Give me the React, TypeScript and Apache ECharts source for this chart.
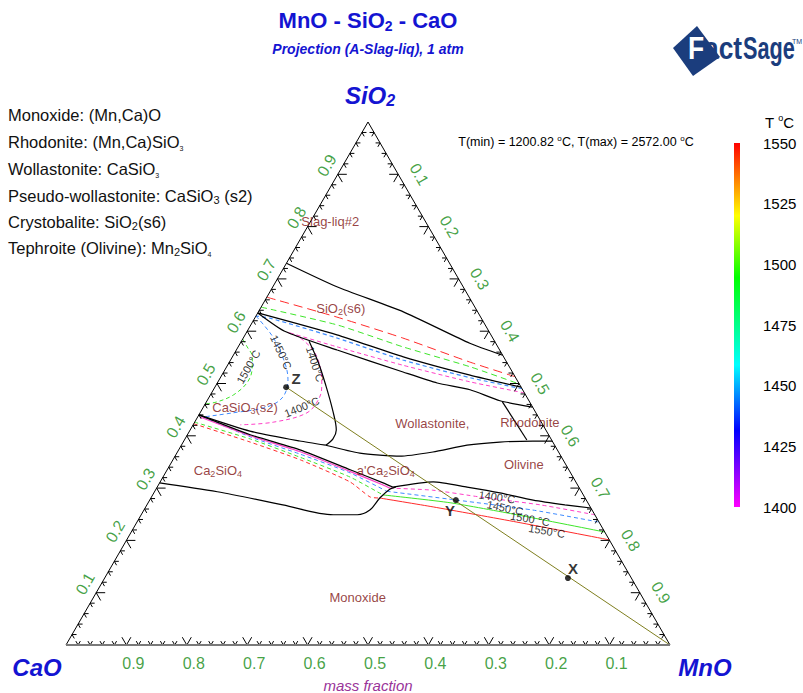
import React, { useEffect, useRef } from "react";
import * as echarts from "echarts";

const FONT = "'Liberation Sans', Arial, Helvetica, sans-serif";
const TITLE_BLUE = "#1414d2";
const TICK_GREEN = "#138a13";
const PHASE_RED = "#7e1010";
const C1400 = "#ff3fc8";
const C1450 = "#3f8cff";
const C1500 = "#3ee62a";
const C1550 = "#ff2a2a";

// ---------- data: compositions as [MnO, SiO2] mass fractions (CaO = 1 - MnO - SiO2) ----------
const bndSlagTop = [[0, 0.730], [0.106, 0.685], [0.240, 0.637], [0.380, 0.577], [0.446, 0.554]];
const bndCristUpper = [[0, 0.635], [0.152, 0.593], [0.283, 0.551], [0.411, 0.516], [0.507, 0.493]];
const bndCristLower = [[0, 0.635], [0.062, 0.600], [0.167, 0.564], [0.297, 0.522], [0.364, 0.501], [0.425, 0.488], [0.485, 0.467], [0.545, 0.455]];
const bndRhodonite = [[0.490, 0.465], [0.567, 0.392]];
const bndWollastonite = [[0.112, 0.581], [0.147, 0.541], [0.183, 0.495], [0.217, 0.449], [0.242, 0.411], [0.245, 0.394], [0.239, 0.382]];
const bndPseudoLower = [[0, 0.440], [0.100, 0.409], [0.192, 0.390], [0.239, 0.382]];
const bndOlivineTop = [[0.239, 0.382], [0.303, 0.367], [0.372, 0.361], [0.423, 0.369], [0.473, 0.382], [0.524, 0.388], [0.578, 0.390], [0.610, 0.390]];
const bndC2SUpper = [[0, 0.440], [0.104, 0.402], [0.201, 0.373], [0.303, 0.335], [0.370, 0.310], [0.390, 0.302]];
const bndC2SLower = [[0, 0.310], [0.104, 0.293], [0.225, 0.268], [0.318, 0.249], [0.358, 0.249], [0.374, 0.258], [0.379, 0.281], [0.387, 0.298], [0.395, 0.302]];
const bndOlivineBottom = [[0.390, 0.302], [0.452, 0.312], [0.513, 0.302], [0.573, 0.291], [0.635, 0.277], [0.692, 0.268], [0.738, 0.262]];

const iso1550Upper = [[0, 0.665], [0.135, 0.627], [0.264, 0.587], [0.398, 0.541], [0.487, 0.513]];
const iso1550LowerL = [[0, 0.423], [0.111, 0.388], [0.211, 0.354], [0.314, 0.312], [0.362, 0.283], [0.379, 0.281]];
const iso1550LowerR = [[0.379, 0.281], [0.476, 0.264], [0.629, 0.235], [0.799, 0.201]];

const iso1500Upper = [[0, 0.646], [0.143, 0.612], [0.273, 0.570], [0.403, 0.532], [0.501, 0.499]];
const iso1500Loop = [[0, 0.585], [0.015, 0.570], [0.033, 0.551], [0.045, 0.526], [0.049, 0.501], [0.038, 0.478], [0.018, 0.465], [0, 0.461]];
const iso1500LowerL = [[0, 0.426], [0.108, 0.394], [0.208, 0.359], [0.310, 0.321], [0.381, 0.287]];
const iso1500LowerR = [[0.381, 0.287], [0.500, 0.272], [0.622, 0.249], [0.784, 0.216]];

const iso1450Upper = [[0.510, 0.490], [0.414, 0.511], [0.285, 0.545], [0.155, 0.587], [0.025, 0.625], [0, 0.629]];
const iso1450Loop = [[0, 0.629], [0.048, 0.589], [0.093, 0.539], [0.114, 0.507], [0.122, 0.474], [0.105, 0.455], [0.055, 0.444], [0.009, 0.436]];
const iso1450LowerL = [[0.009, 0.436], [0.106, 0.398], [0.205, 0.365], [0.306, 0.329], [0.384, 0.294]];
const iso1450LowerR = [[0.384, 0.294], [0.509, 0.277], [0.644, 0.258], [0.765, 0.235]];

const iso1400Upper = [[0.518, 0.482], [0.418, 0.503], [0.290, 0.535], [0.164, 0.570], [0.068, 0.598]];
const iso1400Loop = [[0.068, 0.598], [0.101, 0.583], [0.140, 0.551], [0.173, 0.501], [0.183, 0.474], [0.177, 0.444], [0.130, 0.426], [0.078, 0.421]];
const iso1400LowerL = [[0.004, 0.436], [0.105, 0.400], [0.202, 0.370], [0.304, 0.332], [0.372, 0.306], [0.386, 0.300]];
const iso1400LowerR = [[0.386, 0.300], [0.459, 0.296], [0.544, 0.283], [0.651, 0.268], [0.751, 0.249]];

const pointNames = ["Z", "Y", "X"];
const pointComps = [[0.118, 0.493], [0.507, 0.277], [0.767, 0.128]];
const mnoCorner = [1, 0];

const regionNames = ["Slag-liq#2", "SiO_2(s6)", "Wollastonite,", "Rhodonite", "Olivine", "CaSiO_3(s2)", "Ca_2SiO_4", "a'Ca_2SiO_4", "Monoxide"];
const regionAt = [[0.033, 0.809], [0.133, 0.644], [0.395, 0.423], [0.555, 0.426], [0.585, 0.346], [0.069, 0.455], [0.085, 0.333], [0.363, 0.333], [0.438, 0.090]];

const isoLabelTexts = ["1500°C", "1450°C", "1400°C", "1400°C", "1400°C", "1450°C", "1500 °C", "1550°C"];
const isoLabelAt = [[0.036, 0.532], [0.076, 0.560], [0.144, 0.537], [0.163, 0.455], [0.572, 0.283], [0.596, 0.262], [0.648, 0.241], [0.687, 0.218]];
const isoLabelAngle = [60, -65, -72, 22, -8, -12, -10, -10];

const tickLabels = ["0.1", "0.2", "0.3", "0.4", "0.5", "0.6", "0.7", "0.8", "0.9"];
const tickValues = [0.1, 0.2, 0.3, 0.4, 0.5, 0.6, 0.7, 0.8, 0.9];

const legendLines = [
  "Monoxide: (Mn,Ca)O",
  "Rhodonite: (Mn,Ca)SiO~3",
  "Wollastonite: CaSiO~3",
  "Pseudo-wollastonite: CaSiO_3 (s2)",
  "Crystobalite: SiO_2(s6)",
  "Tephroite (Olivine): Mn_2SiO~4",
];

const tempMin = 1400;
const tempMax = 1550;
const tempStep = 25;

// ---------- helpers ----------
const GRID_W = 604;
const GRID_H = 523;
const toXY = (p: number[]) => [p[0] + p[1] / 2, p[1]];
// shift a data point by a pixel offset (dx right, dy down)
const shiftPx = (xy: number[], dx: number, dy: number) => [xy[0] + dx / GRID_W, xy[1] - dy / GRID_H];

const richify = (str: string) =>
  str
    .split(/([_~]\d)/)
    .filter((p) => p.length > 0)
    .map((p) => (p[0] === "_" ? `{s|${p.slice(1)}}` : p[0] === "~" ? `{t|${p.slice(1)}}` : `{n|${p}}`))
    .join("");

function lineSeries(pts: number[][], color: string, width: number, type: any = "solid", z = 3, smooth = 0.2) {
  return {
    type: "line",
    xAxisIndex: 0,
    yAxisIndex: 0,
    data: pts.map(toXY),
    symbol: "none",
    showSymbol: false,
    smooth,
    silent: true,
    clip: false,
    z,
    lineStyle: { color, width, type },
  };
}

function buildOption() {
  const tickData: number[][] = [];
  for (let k = 1; k < 50; k++) {
    const v = k / 50;
    const major = k % 5 === 0 ? 1 : 0;
    tickData.push([v, 0, 0, major]);
    tickData.push([0, v, 1, major]);
    tickData.push([1 - v, v, 2, major]);
  }

  const labelSeries = (data: any[], rotate: number) => ({
    type: "scatter",
    xAxisIndex: 0,
    yAxisIndex: 0,
    silent: true,
    clip: false,
    symbolSize: 1,
    itemStyle: { color: "rgba(0,0,0,0)" },
    z: 6,
    data,
    label: {
      show: true,
      position: "inside",
      formatter: "{b}",
      rotate,
      color: TICK_GREEN,
      fontSize: 16,
      fontFamily: FONT,
    },
  });

  const series: any[] = [
    // triangle
    lineSeries([[0, 0], [0, 1], [1, 0]], "#000", 1, "solid", 4, 0),
    lineSeries([[0, 0], [1, 0]], "#7a7a7a", 2, "solid", 4, 0),
    // ticks
    {
      type: "custom",
      coordinateSystem: "cartesian2d",
      xAxisIndex: 0,
      yAxisIndex: 0,
      silent: true,
      clip: false,
      z: 4,
      data: tickData,
      renderItem: (params: any, api: any) => {
        const m = api.value(0);
        const s = api.value(1);
        const edge = api.value(2);
        const major = api.value(3);
        const p = api.coord([m + s / 2, s]);
        const L = major ? 9 : 4.5;
        const angs = edge === 0 ? [60, 120] : edge === 1 ? [0, -60] : [180, 240];
        return {
          type: "group",
          children: angs.map((a) => {
            const r = (a * Math.PI) / 180;
            return {
              type: "line",
              shape: { x1: p[0], y1: p[1], x2: p[0] + L * Math.cos(r), y2: p[1] - L * Math.sin(r) },
              style: { stroke: "#000", lineWidth: 1 },
            };
          }),
        };
      },
    },
    // tick labels: CaO along bottom, SiO2 along left, MnO along right
    labelSeries(tickValues.map((c, i) => ({ value: shiftPx(toXY([1 - c, 0]), 7, 18), name: tickLabels[i] })), 0),
    labelSeries(tickValues.map((v, i) => ({ value: shiftPx(toXY([0, v]), -11, -9), name: tickLabels[i] })), 60),
    labelSeries(tickValues.map((v, i) => ({ value: shiftPx(toXY([v, 1 - v]), 21, 0), name: tickLabels[i] })), -60),

    // isotherms (drawn below phase boundaries)
    lineSeries(iso1550Upper, C1550, 1, [9, 5], 2),
    lineSeries(iso1550LowerL, C1550, 1, [4, 3], 2),
    lineSeries(iso1550LowerR, C1550, 1, "solid", 2),
    lineSeries(iso1500Upper, C1500, 1, [6, 4], 2),
    lineSeries(iso1500Loop, C1500, 1, [4, 3], 2, 0.35),
    lineSeries(iso1500LowerL, C1500, 1, [4, 3], 2),
    lineSeries(iso1500LowerR, C1500, 1, "solid", 2),
    lineSeries(iso1450Upper, C1450, 1.2, [4, 3], 2),
    lineSeries(iso1450Loop, C1450, 1, [4, 3], 2, 0.35),
    lineSeries(iso1450LowerL, C1450, 1, [4, 3], 2),
    lineSeries(iso1450LowerR, C1450, 1, [4, 3], 2),
    lineSeries(iso1400Upper, C1400, 1, [4, 3], 2),
    lineSeries(iso1400Loop, C1400, 1, [4, 3], 2, 0.35),
    lineSeries(iso1400LowerL, C1400, 1.2, "solid", 2),
    lineSeries(iso1400LowerR, C1400, 1, [4, 3], 2),

    // phase boundaries
    lineSeries(bndSlagTop, "#000", 1.2),
    lineSeries(bndCristUpper, "#000", 1.2),
    lineSeries(bndCristLower, "#000", 1.2),
    lineSeries(bndRhodonite, "#000", 1.2, "solid", 3, 0),
    lineSeries(bndWollastonite, "#000", 1.2, "solid", 3, 0.35),
    lineSeries(bndPseudoLower, "#000", 1.2),
    lineSeries(bndOlivineTop, "#000", 1.2),
    lineSeries(bndC2SUpper, "#000", 1.2),
    lineSeries(bndC2SLower, "#000", 1.2, "solid", 3, 0.3),
    lineSeries(bndOlivineBottom, "#000", 1.2),

    // composition line Z -> MnO
    lineSeries([pointComps[0], mnoCorner], "#7f7f1f", 1, "solid", 3, 0),

    // points
    {
      type: "scatter",
      xAxisIndex: 0,
      yAxisIndex: 0,
      silent: true,
      clip: false,
      z: 7,
      symbolSize: 6,
      itemStyle: { color: "#000" },
      data: pointNames.map((n, i) => ({
        value: toXY(pointComps[i]),
        name: n,
        label: { offset: i === 0 ? [10, -9] : i === 1 ? [-6, 10] : [5, -10] },
      })),
      label: { show: true, position: "inside", formatter: "{b}", fontSize: 15, fontWeight: "bold", color: "#000", fontFamily: FONT },
    },

    // region labels
    {
      type: "scatter",
      xAxisIndex: 0,
      yAxisIndex: 0,
      silent: true,
      clip: false,
      z: 6,
      symbolSize: 1,
      itemStyle: { color: "rgba(0,0,0,0)" },
      data: regionNames.map((n, i) => ({ value: toXY(regionAt[i]), name: richify(n) })),
      label: {
        show: true,
        position: "inside",
        formatter: "{b}",
        rich: {
          n: { fontSize: 13, color: PHASE_RED, fontFamily: FONT, lineHeight: 16 },
          s: { fontSize: 9, color: PHASE_RED, fontFamily: FONT, lineHeight: 8, verticalAlign: "bottom" },
          t: { fontSize: 9, color: PHASE_RED, fontFamily: FONT, lineHeight: 8, verticalAlign: "bottom" },
        },
      },
    },

    // isotherm labels
    {
      type: "scatter",
      xAxisIndex: 0,
      yAxisIndex: 0,
      silent: true,
      clip: false,
      z: 6,
      symbolSize: 1,
      itemStyle: { color: "rgba(0,0,0,0)" },
      data: isoLabelTexts.map((t, i) => ({ value: toXY(isoLabelAt[i]), name: t, label: { rotate: isoLabelAngle[i] } })),
      label: { show: true, position: "inside", formatter: "{b}", fontSize: 11, color: "#000", fontFamily: FONT },
    },

    // colour bar
    {
      type: "bar",
      xAxisIndex: 1,
      yAxisIndex: 1,
      silent: true,
      barWidth: "100%",
      data: [tempMax],
      itemStyle: {
        color: new echarts.graphic.LinearGradient(0, 0, 0, 1, [
          { offset: 0, color: "#ff0000" },
          { offset: 0.1, color: "#ff8000" },
          { offset: 0.2, color: "#ffff00" },
          { offset: 0.37, color: "#00ff00" },
          { offset: 0.61, color: "#00ffff" },
          { offset: 0.79, color: "#0000ff" },
          { offset: 1, color: "#ff00ff" },
        ]),
      },
    },
  ];

  const gRich = (size: number, color: string, extra: any = {}) => ({
    n: { fontSize: size, fill: color, fontFamily: FONT, lineHeight: size + 3, ...extra },
    s: { fontSize: Math.round(size * 0.65), fill: color, fontFamily: FONT, lineHeight: Math.round(size * 0.6), verticalAlign: "bottom", ...extra },
    t: { fontSize: Math.round(size * 0.4), fill: color, fontFamily: FONT, lineHeight: Math.round(size * 0.4), verticalAlign: "bottom", ...extra },
  });

  const textEl = (x: number, y: number, text: string, rich: any, align = "center") => ({
    type: "text",
    x,
    y,
    silent: true,
    style: { text, rich, textAlign: align, align, textVerticalAlign: "middle", verticalAlign: "middle" },
  });

  const supRich = (size: number) => ({
    n: { fontSize: size, fill: "#000", fontFamily: FONT, lineHeight: size + 3 },
    o: { fontSize: Math.round(size * 0.6), fill: "#000", fontFamily: FONT, lineHeight: Math.round(size * 0.6), verticalAlign: "top" },
  });

  const LOGO = "#1b3d7d";

  const graphic: any[] = [
    textEl(368, 20, "{n|MnO - SiO}{s|2}{n| - CaO}", gRich(22, TITLE_BLUE, { fontWeight: "bold" })),
    textEl(368, 49, "{n|Projection (A-Slag-liq), 1 atm}", gRich(14, TITLE_BLUE, { fontWeight: "bold", fontStyle: "italic" })),
    textEl(370, 95, "{n|SiO}{s|2}", gRich(24, TITLE_BLUE, { fontWeight: "bold", fontStyle: "italic" })),
    textEl(37, 667, "{n|CaO}", gRich(24, TITLE_BLUE, { fontWeight: "bold", fontStyle: "italic" })),
    textEl(705, 667, "{n|MnO}", gRich(24, TITLE_BLUE, { fontWeight: "bold", fontStyle: "italic" })),
    textEl(368, 685, "{n|mass fraction}", gRich(15, "#993399", { fontStyle: "italic" })),
    ...legendLines.map((l, i) => textEl(8, [115, 142, 169, 196, 222, 248][i], richify(l), gRich(16.5, "#111"), "left")),
    textEl(576, 142, "{n|T(min) = 1200.82 }{o|o}{n|C, T(max) = 2572.00 }{o|o}{n|C}", supRich(12.5)),
    textEl(765, 122, "{n|T }{o|o}{n|C}", supRich(15), "left"),
    // FactSage logo
    {
      type: "polygon",
      silent: true,
      shape: { points: [[673, 48], [697, 26], [720, 57], [693, 76]] },
      style: { fill: LOGO },
    },
    {
      type: "text",
      x: 688,
      y: 64,
      scaleX: 0.85,
      silent: true,
      style: { text: "F", fill: "#ffffff", stroke: LOGO, lineWidth: 1.2, font: `bold 31px ${FONT}`, textVerticalAlign: "bottom", verticalAlign: "bottom" },
    },
    {
      type: "text",
      x: 704,
      y: 64,
      scaleX: 0.85,
      silent: true,
      style: { text: "act", fill: LOGO, font: `bold 31px ${FONT}`, textVerticalAlign: "bottom", verticalAlign: "bottom" },
    },
    {
      type: "text",
      x: 743,
      y: 64,
      scaleX: 0.7,
      silent: true,
      style: { text: "Sage", fill: LOGO, font: `bold 31px ${FONT}`, textVerticalAlign: "bottom", verticalAlign: "bottom" },
    },
    {
      type: "text",
      x: 792,
      y: 38,
      silent: true,
      style: { text: "TM", fill: LOGO, font: `7px ${FONT}` },
    },
  ];

  return {
    animation: false,
    backgroundColor: "#ffffff",
    grid: [
      { left: 66, top: 122, width: GRID_W, height: GRID_H },
      { left: 734, top: 143, width: 6, height: 364 },
    ],
    xAxis: [
      { type: "value", gridIndex: 0, min: 0, max: 1, show: false },
      { type: "category", gridIndex: 1, data: ["T"], show: false },
    ],
    yAxis: [
      { type: "value", gridIndex: 0, min: 0, max: 1, show: false },
      {
        type: "value",
        gridIndex: 1,
        min: tempMin,
        max: tempMax,
        interval: tempStep,
        position: "right",
        axisLine: { show: false },
        axisTick: { show: false },
        splitLine: { show: false },
        axisLabel: { margin: 23, fontSize: 15, color: "#000", fontFamily: FONT, formatter: (v: number) => String(v) },
      },
    ],
    series,
    graphic,
  };
}

export default function App() {
  const ref = useRef<HTMLDivElement>(null);
  useEffect(() => {
    const chart = echarts.init(ref.current!, undefined, { renderer: "svg" });
    chart.setOption(buildOption() as any);
    return () => chart.dispose();
  }, []);
  return (
    <div
      ref={ref}
      style={{ position: "absolute", left: 0, top: 0, width: 803, height: 693, background: "#fff" }}
    />
  );
}
